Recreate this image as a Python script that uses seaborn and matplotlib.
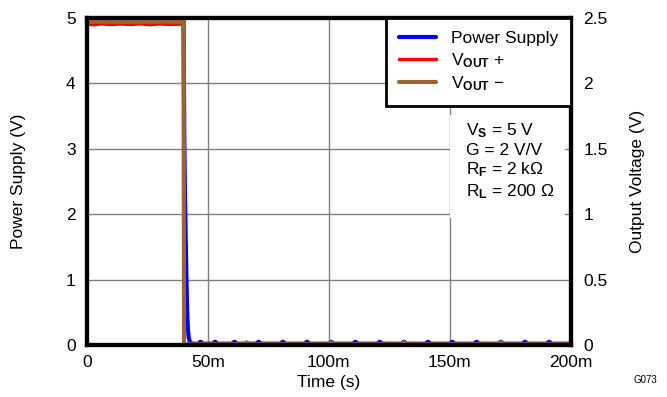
import matplotlib
matplotlib.use("Agg")
import matplotlib.pyplot as plt
from matplotlib.patches import Rectangle
import seaborn as sns
import pandas as pd

# ---- data (time in s) ----
ps_time = [0.0, 0.0400, 0.0403, 0.0406, 0.0409, 0.0412, 0.0415, 0.0418, 0.0421, 0.0425, 0.0430,
           0.0440, 0.0460, 0.0470, 0.0480, 0.0520, 0.0530, 0.0540, 0.0600, 0.0610, 0.0620,
           0.0700, 0.0710, 0.0720, 0.0800, 0.0810, 0.0820, 0.0900, 0.0910, 0.0920, 0.1000,
           0.1010, 0.1020, 0.1100, 0.1110, 0.1120, 0.1200, 0.1210, 0.1220, 0.1300, 0.1310,
           0.1320, 0.1400, 0.1410, 0.1420, 0.1500, 0.1510, 0.1520, 0.1600, 0.1610, 0.1620,
           0.1700, 0.1710, 0.1720, 0.1800, 0.1810, 0.1820, 0.1900, 0.1910, 0.1920, 0.2000]
ps_vals = [4.97, 4.97, 3.2, 2.2, 1.6, 1.0, 0.5, 0.25, 0.12, 0.06, 0.03,
           0.02, 0.02, 0.05, 0.02, 0.02, 0.05, 0.02, 0.02, 0.05, 0.02,
           0.02, 0.05, 0.02, 0.02, 0.05, 0.02, 0.02, 0.05, 0.02, 0.02,
           0.05, 0.02, 0.02, 0.05, 0.02, 0.02, 0.05, 0.02, 0.02, 0.05,
           0.02, 0.02, 0.05, 0.02, 0.02, 0.05, 0.02, 0.02, 0.05, 0.02,
           0.02, 0.05, 0.02, 0.02, 0.05, 0.02, 0.02, 0.05, 0.02, 0.02]

vp_time = [0.0, 0.003, 0.006, 0.010, 0.014, 0.018, 0.022, 0.026, 0.030, 0.034, 0.0380, 0.0400, 0.0402, 0.200]
vp_vals = [2.452, 2.448, 2.455, 2.449, 2.454, 2.450, 2.455, 2.448, 2.454, 2.450, 2.452, 2.452, 0.005, 0.005]

vm_time = [0.0, 0.0400, 0.0402, 0.0650, 0.0660, 0.0670, 0.1000, 0.1010, 0.1020, 0.1300, 0.1310,
           0.1320, 0.1700, 0.1710, 0.1720, 0.2000]
vm_vals = [2.47, 2.47, 0.005, 0.005, 0.02, 0.005, 0.005, 0.02, 0.005, 0.005, 0.02,
           0.005, 0.005, 0.02, 0.005, 0.005]

x_ticks = [0, 0.05, 0.10, 0.15, 0.20]
x_ticklabels = ["0", "50m", "100m", "150m", "200m"]
left_ticks = [0, 1, 2, 3, 4, 5]
right_ticks = [0, 0.5, 1, 1.5, 2, 2.5]
right_ticklabels = ["0", "0.5", "1", "1.5", "2", "2.5"]

sns.set_style("white")
plt.rcParams["font.family"] = ["Liberation Sans", "DejaVu Sans"]
plt.rcParams["mathtext.fontset"] = "custom"
plt.rcParams["mathtext.rm"] = "Liberation Sans"
plt.rcParams["mathtext.bf"] = "Liberation Sans:bold"
plt.rcParams["mathtext.it"] = "Liberation Sans:italic"
plt.rcParams["text.color"] = "black"
plt.rcParams["axes.labelcolor"] = "black"
plt.rcParams["xtick.color"] = "black"
plt.rcParams["ytick.color"] = "black"

fig = plt.figure(figsize=(6.67, 3.97), dpi=100)
ax = fig.add_axes([0.130, 0.131, 0.726, 0.824])
ax2 = ax.twinx()

df_ps = pd.DataFrame({"t": ps_time, "v": ps_vals})
df_vp = pd.DataFrame({"t": vp_time, "v": vp_vals})
df_vm = pd.DataFrame({"t": vm_time, "v": vm_vals})

sns.lineplot(data=df_ps, x="t", y="v", ax=ax, color="#0000ff", lw=3, estimator=None, sort=False)
sns.lineplot(data=df_vp, x="t", y="v", ax=ax2, color="#ff0000", lw=2.5, estimator=None, sort=False)
sns.lineplot(data=df_vm, x="t", y="v", ax=ax2, color="#996633", lw=3, estimator=None, sort=False)

ax.set_xlim(0, 0.2)
ax.set_ylim(0, 5)
ax2.set_ylim(0, 2.5)
ax.set_xticks(x_ticks)
ax.set_xticklabels(x_ticklabels)
ax.set_yticks(left_ticks)
ax2.set_yticks(right_ticks)
ax2.set_yticklabels(right_ticklabels)

fs = 12.5
ax.tick_params(axis="x", length=0, labelsize=fs, pad=7, labelcolor="black")
ax.tick_params(axis="y", length=0, labelsize=fs, pad=8, labelcolor="black")
ax2.tick_params(axis="y", length=0, labelsize=fs, pad=9, labelcolor="black")
ax.grid(True, color="#808080", lw=1)
ax.set_axisbelow(True)
ax2.grid(False)

ax.set_xlabel("Time (s)", fontsize=fs, labelpad=4, color="black")
ax.set_ylabel("Power Supply (V)", fontsize=fs, labelpad=29, color="black")
ax2.set_ylabel("Output Voltage (V)", fontsize=fs, labelpad=16, color="black")

for a in (ax, ax2):
    for s in a.spines.values():
        s.set_color("black")
        s.set_linewidth(3)
        s.set_zorder(5)

handles = [ax.lines[0], ax2.lines[0], ax2.lines[1]]
labels = ["Power Supply", r"V$_{\mathbf{OUT}}$ +", r"V$_{\mathbf{OUT}}$ −"]
leg = ax2.legend(handles, labels, loc="upper right", fontsize=fs, frameon=True, fancybox=False,
                 borderaxespad=0, handlelength=2.1, handletextpad=0.85, labelspacing=0.28,
                 borderpad=0.75, labelcolor="black")
leg.get_frame().set_edgecolor("black")
leg.get_frame().set_linewidth(2)
leg.get_frame().set_alpha(1)

ax2.add_patch(Rectangle((0.75, 0.388), 0.238, 0.315, transform=ax.transAxes,
                        facecolor="white", edgecolor="none", zorder=3))
txt = "V$_{\\mathbf{S}}$ = 5 V\nG = 2 V/V\nR$_{\\mathbf{F}}$ = 2 k$\\Omega$\nR$_{\\mathbf{L}}$ = 200 $\\Omega$"
ax2.text(0.783, 0.684, txt, transform=ax.transAxes, fontsize=fs, va="top", ha="left",
         linespacing=1.22, zorder=4, color="black")

fig.text(0.985, 0.03, "G073", fontsize=7, ha="right", va="bottom", color="black")

fig.savefig("out.png", dpi=100)
